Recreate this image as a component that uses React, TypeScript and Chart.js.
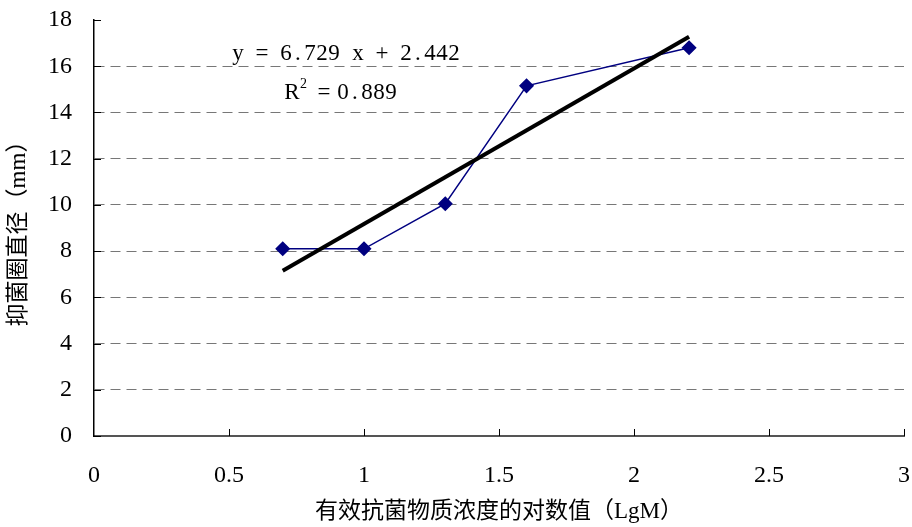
import React, { useEffect, useRef } from "react";
import { Chart, registerables } from "chart.js";

Chart.register(...registerables);

// ---- data ----
const lgConcentration = [0.699, 1.0, 1.301, 1.602, 2.204];
const zoneDiameter = [8.1, 8.1, 10.05, 15.15, 16.8];
const trendSlope = 6.729;
const trendIntercept = 2.442;
const rSquared = "0.889";
const xTicks = [0, 0.5, 1, 1.5, 2, 2.5, 3];
const yTicks = [0, 2, 4, 6, 8, 10, 12, 14, 16, 18];
const xTitle = "有效抗菌物质浓度的对数值（LgM）";
const yTitle = "抑菌圈直径（mm）";

const NUM_FONT = "'Liberation Serif', 'DejaVu Serif', serif";
const CJK_FONT = "'Liberation Serif', 'Noto Sans CJK SC', serif";

const trendX = [lgConcentration[0], lgConcentration[lgConcentration.length - 1]];
const trendPoints = trendX.map((x) => ({ x, y: trendSlope * x + trendIntercept }));

const chromePlugin = {
  id: "chrome",
  afterDraw(chart: any) {
    const { ctx, scales, chartArea } = chart;
    const xs = scales.x;
    const ys = scales.y;
    ctx.save();
    // inward tick marks
    ctx.strokeStyle = "#000";
    ctx.lineWidth = 1;
    xTicks.forEach((v) => {
      if (v === 0) return;
      const px = Math.round(xs.getPixelForValue(v)) + 0.5;
      ctx.beginPath();
      ctx.moveTo(px, chartArea.bottom);
      ctx.lineTo(px, chartArea.bottom - 7);
      ctx.stroke();
    });
    yTicks.forEach((v) => {
      const py = Math.round(ys.getPixelForValue(v)) + 0.5;
      ctx.beginPath();
      ctx.moveTo(chartArea.left, py);
      ctx.lineTo(chartArea.left + 7, py);
      ctx.stroke();
    });
    // equation text, monospaced cells like the original
    const drawMono = (text: string, x0: number, yMid: number) => {
      ctx.font = `23px ${NUM_FONT}`;
      ctx.textAlign = "center";
      ctx.textBaseline = "middle";
      ctx.fillStyle = "#000";
      for (let i = 0; i < text.length; i++) {
        ctx.fillText(text[i], x0 + i * 12 + 6, yMid);
      }
    };
    const ex = xs.getPixelForValue(0.511);
    const ey = ys.getPixelForValue(16.55);
    drawMono(`y = ${trendSlope} x + ${trendIntercept}`, ex, ey);
    const rx = xs.getPixelForValue(0.711);
    const ry = ys.getPixelForValue(14.85);
    drawMono("R", rx, ry);
    drawMono("=", rx + 32, ry);
    drawMono(rSquared, rx + 51, ry);
    ctx.font = `14px ${NUM_FONT}`;
    ctx.textAlign = "left";
    ctx.fillText("2", rx + 14, ry - 8);
    ctx.restore();
  },
};

export default function App() {
  const ref = useRef<HTMLCanvasElement | null>(null);
  useEffect(() => {
    if (!ref.current) return;
    const chart = new Chart(ref.current, {
      type: "scatter",
      data: {
        datasets: [
          {
            label: "trend",
            data: trendPoints,
            showLine: true,
            borderColor: "#000",
            borderWidth: 4,
            pointRadius: 0,
          },
          {
            label: "data",
            data: lgConcentration.map((x, i) => ({ x, y: zoneDiameter[i] })),
            showLine: true,
            borderColor: "#000080",
            borderWidth: 1.5,
            pointStyle: "rectRot",
            pointRadius: 6.5,
            pointBackgroundColor: "#000080",
            pointBorderColor: "#000080",
          },
        ],
      },
      options: {
        animation: false,
        responsive: true,
        maintainAspectRatio: false,
        layout: { padding: { top: 20, right: 8, left: 0, bottom: 0 } },
        plugins: { legend: { display: false }, tooltip: { enabled: false } },
        scales: {
          x: {
            type: "linear",
            min: 0,
            max: 3,
            afterBuildTicks: (s: any) => {
              s.ticks = xTicks.map((v) => ({ value: v }));
            },
            afterFit: (s: any) => {
              s.height = 91;
              s.paddingLeft = 0;
              s.paddingRight = 0;
            },
            grid: { display: false, drawTicks: false },
            border: { display: true, color: "#555", width: 2 },
            ticks: {
              color: "#000",
              font: { family: NUM_FONT, size: 24 },
              padding: 25,
              maxRotation: 0,
              callback: (v: any) => String(v),
            },
            title: {
              display: true,
              text: xTitle,
              color: "#000",
              font: { family: CJK_FONT, size: 23 },
              padding: { top: 0, bottom: 1 },
            },
          },
          y: {
            type: "linear",
            min: 0,
            max: 18,
            afterBuildTicks: (s: any) => {
              s.ticks = yTicks.map((v) => ({ value: v }));
            },
            afterFit: (s: any) => {
              s.width = 94;
              s.paddingTop = 0;
              s.paddingBottom = 0;
            },
            grid: {
              drawTicks: false,
              color: (c: any) =>
                c.tick && (c.tick.value === 0 || c.tick.value === 18) ? "rgba(0,0,0,0)" : "#777",
              lineWidth: 1,
            },
            border: { display: true, color: "#000", width: 1.5, dash: [10, 6] },
            ticks: {
              color: "#000",
              font: { family: NUM_FONT, size: 24 },
              padding: 22,
              callback: (v: any) => String(v),
            },
            title: {
              display: true,
              text: yTitle,
              color: "#000",
              font: { family: CJK_FONT, size: 23 },
              padding: { top: 5, bottom: 0 },
            },
          },
        },
      },
      plugins: [chromePlugin],
    });
    return () => chart.destroy();
  }, []);
  return (
    <div style={{ position: "fixed", left: 0, top: 0, width: 912, height: 527, background: "#fff" }}>
      <canvas ref={ref} />
    </div>
  );
}
